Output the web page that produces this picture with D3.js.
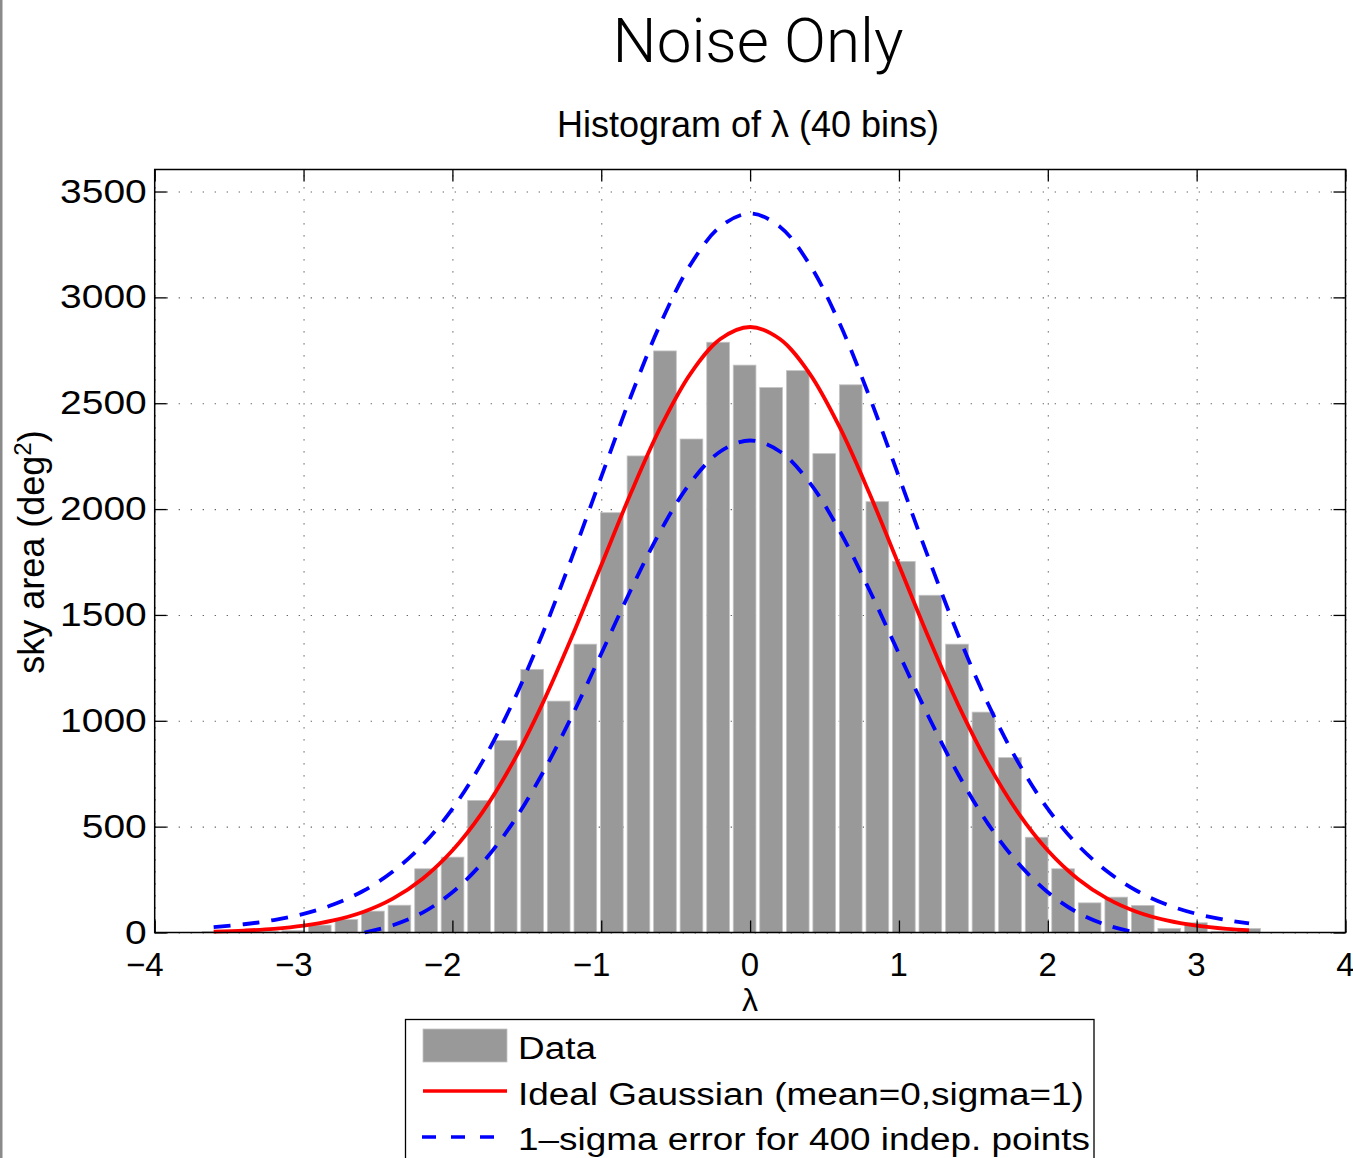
<!DOCTYPE html>
<html>
<head>
<meta charset="utf-8">
<script src="https://cdn.jsdelivr.net/npm/d3@7"></script>
<style>
	body { margin: 0; background: #fff; }
	text { font-family: "Liberation Sans", Arial, sans-serif; fill: #000; }
</style>
</head>
<body>
<div id="chart"></div>
<script>
// histogram of lambda, 40 bins (centres)
const binCenters = [-3.604, -3.426, -3.247, -3.069, -2.891, -2.712, -2.534, -2.356, -2.177, -1.999,
	-1.821, -1.642, -1.464, -1.286, -1.107, -0.929, -0.750, -0.572, -0.394, -0.215,
	-0.037, 0.141, 0.320, 0.498, 0.676, 0.855, 1.033, 1.211, 1.390, 1.568,
	1.746, 1.925, 2.103, 2.281, 2.460, 2.638, 2.816, 2.995, 3.173, 3.352];
const binCounts = [5, 4, 6, 9, 35, 61, 101, 129, 301, 356,
	624, 907, 1243, 1093, 1362, 1983, 2251, 2747, 2331, 2788,
	2680, 2574, 2654, 2262, 2587, 2035, 1753, 1593, 1362, 1041,
	826, 450, 301, 140, 167, 128, 19, 46, 6, 19];

// ideal gaussian and upper 1-sigma curve
const curveLambda = [-3.604, -3.4, -3.2, -3.0, -2.8, -2.6, -2.4, -2.2, -2.0, -1.8, -1.6, -1.4, -1.2, -1.0, -0.8, -0.6, -0.4, -0.2, 0,
	0.2, 0.4, 0.6, 0.8, 1.0, 1.2, 1.4, 1.6, 1.8, 2.0, 2.2, 2.4, 2.6, 2.8, 3.0, 3.2, 3.352];
const idealGauss = [4, 9, 17, 32, 57, 97, 160, 254, 387, 566, 795, 1073, 1392, 1735, 2077, 2389, 2640, 2803, 2860,
	2803, 2640, 2389, 2077, 1735, 1392, 1073, 795, 566, 387, 254, 160, 97, 57, 32, 17, 10];
const upperSigma = [25, 39, 59, 88, 132, 196, 288, 414, 584, 805, 1078, 1402, 1766, 2152, 2534, 2879, 3155, 3334, 3396,
	3334, 3155, 2879, 2534, 2152, 1766, 1402, 1078, 805, 584, 414, 288, 196, 132, 88, 59, 43];

// lower 1-sigma curve (only where it is above zero)
const lowerLambda = [-2.59, -2.4, -2.2, -2.0, -1.8, -1.6, -1.4, -1.2, -1.0, -0.8, -0.6, -0.4, -0.2, 0,
	0.2, 0.4, 0.6, 0.8, 1.0, 1.2, 1.4, 1.6, 1.8, 2.0, 2.2, 2.4, 2.59];
const lowerSigma = [0, 34, 94, 190, 328, 512, 745, 1018, 1317, 1620, 1899, 2125, 2272, 2324,
	2272, 2125, 1899, 1620, 1317, 1018, 745, 512, 328, 190, 94, 34, 0];

const xTicks = [-4, -3, -2, -1, 0, 1, 2, 3, 4];
const yTicks = [0, 500, 1000, 1500, 2000, 2500, 3000, 3500];
const legendLabels = ["Data", "Ideal Gaussian (mean=0,sigma=1)", "1\u2013sigma error for 400 indep. points"];

class NoiseHist {
	constructor(_parent){
		this.margin = {top: 169.5, left: 154.7};
		this.width = 1345.5 - this.margin.left;
		this.height = 932.5 - this.margin.top;
		this.parent = _parent;

		this.initVis();
	}

	initVis(){
		let vis = this;

		vis.svg = d3.select(vis.parent).append("svg")
			.attr("width", 1353)
			.attr("height", 1158);

		// thin grey page edge on the left
		vis.svg.append("rect")
			.attr("x", 0).attr("y", 0)
			.attr("width", 2.5).attr("height", 1158)
			.attr("fill", "#8a8a8a");

		vis.x = d3.scaleLinear().domain([-4, 4]).range([0, vis.width]);
		vis.y = d3.scaleLinear().domain([0, 3604]).range([vis.height, 0]);

		vis.g = vis.svg.append("g")
			.attr("transform", `translate(${vis.margin.left},${vis.margin.top})`);

		// titles
		vis.svg.append("text")
			.attr("x", 758).attr("y", 62)
			.attr("text-anchor", "middle")
			.style("font-family", "Roboto, 'Liberation Sans', sans-serif")
			.style("font-weight", 300)
			.style("font-size", "62px")
			.text("Noise Only");

		vis.svg.append("text")
			.attr("x", 748).attr("y", 137)
			.attr("text-anchor", "middle")
			.style("font-size", "36px")
			.text("Histogram of \u03bb (40 bins)");

		vis.svg.append("text")
			.attr("x", 750).attr("y", 1011)
			.attr("text-anchor", "middle")
			.style("font-size", "32px")
			.text("\u03bb");

		let ylab = vis.svg.append("text")
			.attr("transform", "translate(44,552) rotate(-90)")
			.attr("text-anchor", "middle")
			.style("font-size", "36px");
		ylab.append("tspan").text("sky area (deg");
		ylab.append("tspan").attr("baseline-shift", "super").style("font-size", "24px").text("2");
		ylab.append("tspan").text(")");

		vis.renderVis();
		vis.drawLegend();
	}

	renderVis(){
		let vis = this;

		// dotted grid under everything
		vis.g.append("g")
			.attr("class", "grid")
			.attr("transform", `translate(0,${vis.height})`)
			.call(d3.axisBottom(vis.x).tickValues(xTicks).tickSize(-vis.height).tickFormat(""));
		vis.g.append("g")
			.attr("class", "grid")
			.call(d3.axisLeft(vis.y).tickValues(yTicks).tickSize(-vis.width).tickFormat(""));
		vis.g.selectAll(".grid .domain").remove();
		vis.g.selectAll(".grid line")
			.attr("stroke", "#555")
			.attr("stroke-width", 1.1)
			.attr("stroke-dasharray", "1.2,10.8");

		// bars
		let bw = binCenters[1] - binCenters[0];
		let bins = d3.zip(binCenters, binCounts);
		vis.g.selectAll("rect.bar")
			.data(bins)
			.join("rect")
			.attr("class", "bar")
			.attr("x", d => vis.x(d[0] - bw / 2) + 1.9)
			.attr("y", d => vis.y(d[1]))
			.attr("width", d => vis.x(d[0] + bw / 2) - vis.x(d[0] - bw / 2) - 3.8)
			.attr("height", d => vis.height - vis.y(d[1]))
			.attr("fill", "#999999")
			.attr("stroke", "#c4c4c4")
			.attr("stroke-width", 0.8);

		let line = d3.line()
			.x(d => vis.x(d[0]))
			.y(d => vis.y(d[1]))
			.curve(d3.curveCatmullRom);

		vis.g.append("path")
			.datum(d3.zip(curveLambda, idealGauss))
			.attr("d", line)
			.attr("fill", "none")
			.attr("stroke", "#ff0000")
			.attr("stroke-width", 3.8);

		vis.g.append("path")
			.datum(d3.zip(curveLambda, upperSigma))
			.attr("d", line)
			.attr("fill", "none")
			.attr("stroke", "#0000ff")
			.attr("stroke-width", 3.8)
			.attr("stroke-dasharray", "17,12");

		vis.g.append("path")
			.datum(d3.zip(lowerLambda, lowerSigma))
			.attr("d", line)
			.attr("fill", "none")
			.attr("stroke", "#0000ff")
			.attr("stroke-width", 3.8)
			.attr("stroke-dasharray", "17,12");

		// axes, ticks pointing inwards on all four sides
		vis.xAxisG = vis.g.append("g")
			.attr("transform", `translate(0,${vis.height})`)
			.call(d3.axisBottom(vis.x).tickValues(xTicks).tickSize(-12).tickPadding(20).tickFormat(d3.format("d")));
		vis.xAxisG.selectAll("text")
			.attr("text-anchor", "end")
			.attr("dx", 8.5)
			.style("font-size", "33px");

		vis.yAxisG = vis.g.append("g")
			.call(d3.axisLeft(vis.y).tickValues(yTicks).tickSize(-12).tickPadding(8).tickFormat(d3.format("d")));
		vis.yAxisG.selectAll("text")
			.attr("x", -8 / 1.18)
			.attr("transform", "scale(1.18,1)")
			.style("font-size", "33px");

		vis.g.append("g")
			.attr("class", "mirror")
			.call(d3.axisTop(vis.x).tickValues(xTicks).tickSize(-12).tickFormat(""));
		vis.g.append("g")
			.attr("class", "mirror")
			.attr("transform", `translate(${vis.width},0)`)
			.call(d3.axisRight(vis.y).tickValues(yTicks).tickSize(-12).tickFormat(""));

		vis.g.selectAll(".domain").remove();
		[vis.xAxisG, vis.yAxisG].forEach(a => a.attr("font-family", null).attr("font-size", null));
		vis.g.selectAll(".tick line").filter(function(){ return !this.closest(".grid"); })
			.attr("stroke", "#000")
			.attr("stroke-width", 1.3);

		// box
		vis.g.append("rect")
			.attr("x", 0).attr("y", 0)
			.attr("width", vis.width).attr("height", vis.height)
			.attr("fill", "none")
			.attr("stroke", "#000")
			.attr("stroke-width", 1.5);
	}

	drawLegend(){
		let vis = this;
		let lg = vis.svg.append("g").attr("class", "legend");

		lg.append("rect")
			.attr("x", 405.5).attr("y", 1019.5)
			.attr("width", 688.5).attr("height", 170)
			.attr("fill", "#fff")
			.attr("stroke", "#000")
			.attr("stroke-width", 1.3);

		lg.append("rect")
			.attr("x", 423).attr("y", 1029)
			.attr("width", 84).attr("height", 33)
			.attr("fill", "#999999")
			.attr("stroke", "#c4c4c4")
			.attr("stroke-width", 0.8);

		lg.append("line")
			.attr("x1", 423).attr("x2", 507)
			.attr("y1", 1091).attr("y2", 1091)
			.attr("stroke", "#ff0000")
			.attr("stroke-width", 3.5);

		lg.append("line")
			.attr("x1", 422).attr("x2", 507)
			.attr("y1", 1137).attr("y2", 1137)
			.attr("stroke", "#0000ff")
			.attr("stroke-width", 3.5)
			.attr("stroke-dasharray", "14,15");

		let rowY = [1059, 1105, 1150];
		lg.selectAll("text")
			.data(legendLabels)
			.join("text")
			.attr("transform", (d, i) => `translate(518,${rowY[i]}) scale(1.19,1)`)
			.style("font-size", "31px")
			.text(d => d);
	}
}

new NoiseHist(document.getElementById("chart"));
</script>
</body>
</html>
